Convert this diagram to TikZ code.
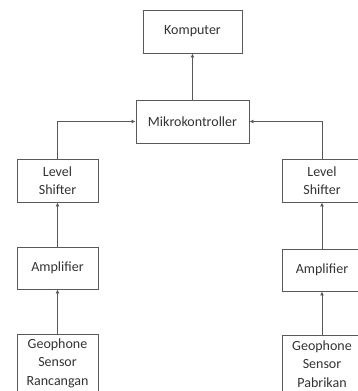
\documentclass[tikz,border=0pt]{standalone}
\usepackage{fontspec}
\setmainfont{Carlito}
\usetikzlibrary{arrows.meta}
\begin{document}
\begin{tikzpicture}[x=1pt,y=-1pt,
  box/.style={draw=black!65, line width=0.9pt, inner sep=0pt, align=center,
    font=\fontsize{14}{18.5}\selectfont, text=black!80},
  conn/.style={draw=black!65, line width=0.9pt, -{Latex[length=4pt,width=4pt]}}]
\useasboundingbox (0,0) rectangle (357,391);
\fill[white] (0,0) rectangle (357,391);
\node[box, minimum width=99pt, minimum height=43pt] (komp) at (192.5,31.5) {Komputer};
\node[box, minimum width=113pt, minimum height=43pt] (mik) at (192.5,121.5) {Mikrokontroller};
\node[box, minimum width=81pt, minimum height=43pt] (lsL) at (57.5,180.5) {Level\\Shifter};
\node[box, minimum width=80pt, minimum height=43pt] (lsR) at (322,180.5) {Level\\Shifter};
\node[box, minimum width=81pt, minimum height=42pt] (ampL) at (57.5,268) {Amplifier};
\node[box, minimum width=80pt, minimum height=42pt] (ampR) at (322,270) {Amplifier};
\node[box, minimum width=81pt, minimum height=58pt] (geoL) at (57.5,363) {Geophone\\Sensor\\Rancangan};
\node[box, minimum width=80pt, minimum height=58pt] (geoR) at (322,364) {Geophone\\Sensor\\Pabrikan};
\draw[conn] (mik.north) -- (komp.south);
\draw[conn] (lsL.north) |- (mik.west);
\draw[conn] (lsR.north) |- (mik.east);
\draw[conn] (ampL.north) -- (lsL.south);
\draw[conn] (ampR.north) -- (lsR.south);
\draw[conn] (geoL.north) -- (ampL.south);
\draw[conn] (geoR.north) -- (ampR.south);
\end{tikzpicture}
\end{document}
